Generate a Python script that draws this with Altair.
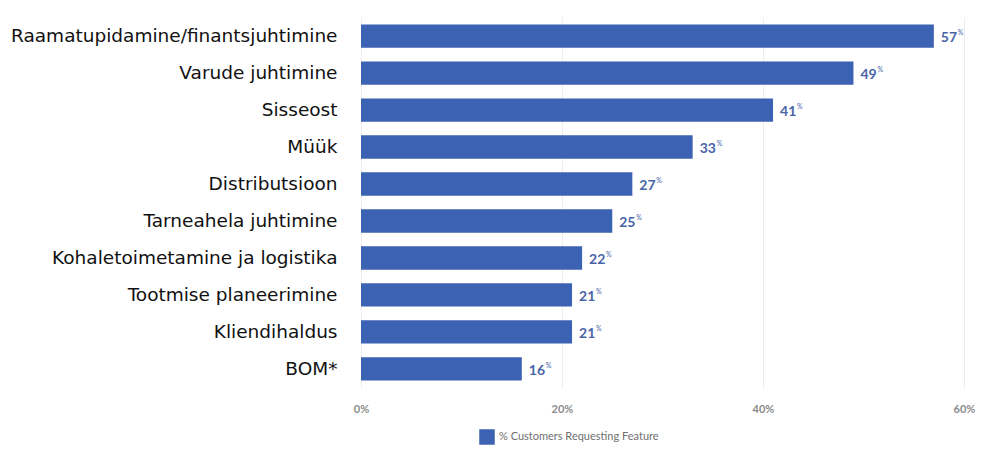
import altair as alt
import pandas as pd

categories = ["Raamatupidamine/finantsjuhtimine", "Varude juhtimine", "Sisseost", "Müük",
              "Distributsioon", "Tarneahela juhtimine", "Kohaletoimetamine ja logistika",
              "Tootmise planeerimine", "Kliendihaldus", "BOM*"]
values = [57, 49, 41, 33, 27, 25, 22, 21, 21, 16]
series_name = "% Customers Requesting Feature"
tick_values = [0, 20, 40, 60]

df = pd.DataFrame({"cat": categories, "val": values, "series": [series_name] * len(values)})
df["num"] = df["val"].astype(str)
df["pct"] = "%"

y = alt.Y("cat:N", sort=categories, title=None,
          scale=alt.Scale(paddingInner=0.37, paddingOuter=0.2),
          axis=alt.Axis(labelFont="DejaVu Sans", labelFontSize=18.5, labelColor="#111111",
                        labelPadding=24, ticks=False, domain=False, labelLimit=400))
x = alt.X("val:Q", title=None,
          scale=alt.Scale(domain=[0, 60], nice=False),
          axis=alt.Axis(values=tick_values, labelExpr="datum.value + '%'", labelColor="#8a8a8a",
                        labelFontSize=11, labelFont="Lato", labelPadding=15, ticks=False,
                        labelFlush=False,
                        domain=False, grid=True, gridColor="#eeeeee", labelFontWeight="bold"))

bars = alt.Chart(df).mark_bar(color="#3b62b3").encode(
    x=x, y=y,
    color=alt.Color("series:N", scale=alt.Scale(range=["#3b62b3"]),
                    legend=alt.Legend(title=None, orient="none", legendX=118, legendY=412,
                                      symbolType="square", symbolSize=240, labelFontSize=11,
                                      labelColor="#707070", labelFont="Lato", symbolStrokeWidth=0,
                                      symbolOpacity=1))
)
nums = alt.Chart(df).mark_text(align="left", baseline="middle", dx=7, dy=2, fontSize=14,
                               fontWeight="bold", color="#4a64a8", font="Lato").encode(
    x="val:Q", y=alt.Y("cat:N", sort=categories), text="num:N")
pcts = alt.Chart(df).mark_text(align="left", baseline="middle", dx=24, dy=-3, fontSize=7,
                               color="#4a64a8", font="Lato").encode(
    x="val:Q", y=alt.Y("cat:N", sort=categories), text="pct:N")

chart = alt.layer(bars, nums, pcts).properties(
    width=603, height=371,
    autosize=alt.AutoSizeParams(type="none"),
    padding={"left": 361, "top": 17, "right": 25, "bottom": 71},
    background="white",
).configure_view(stroke=None)

chart.save("out.html", embed_options={"renderer": "svg", "actions": False})
